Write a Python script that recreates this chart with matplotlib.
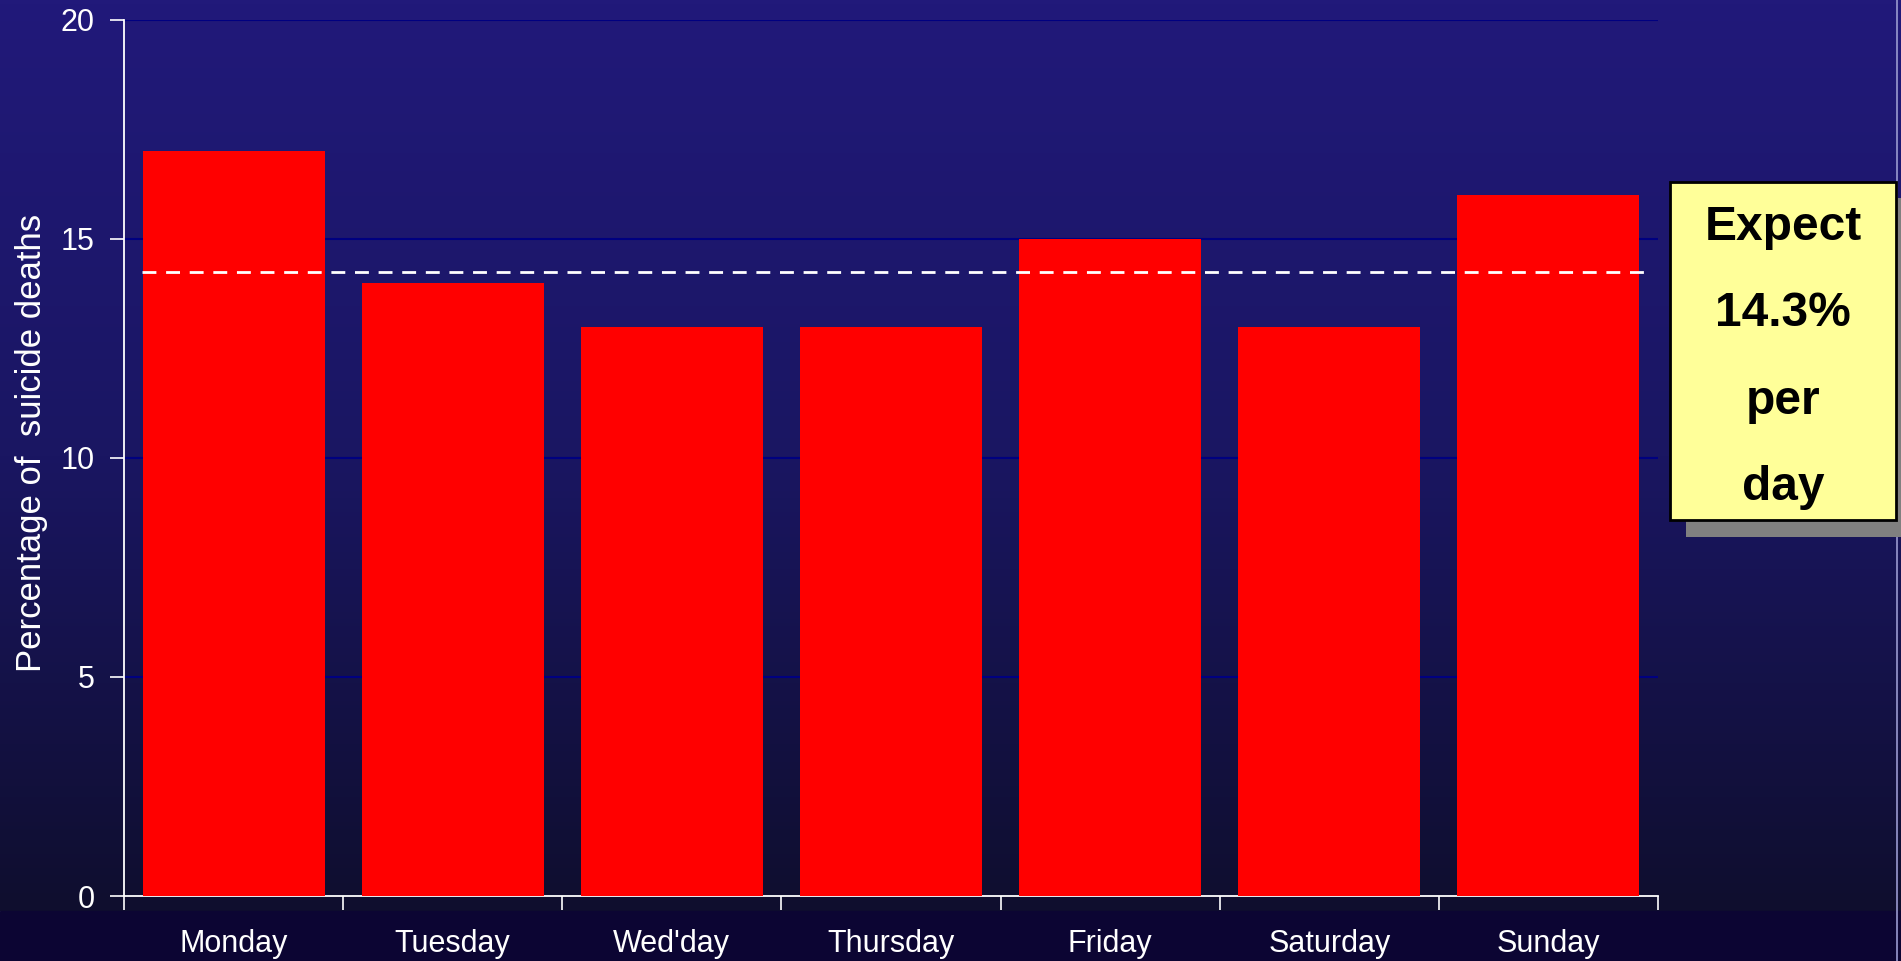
import matplotlib
matplotlib.use('Agg')
import matplotlib.pyplot as plt
import numpy as np
from matplotlib.patches import Rectangle
from matplotlib.colors import LinearSegmentedColormap

plt.rcParams['font.family'] = ['Liberation Sans', 'DejaVu Sans']

days = ["Monday", "Tuesday", "Wed'day", "Thursday", "Friday", "Saturday", "Sunday"]
pct = [17, 14, 13, 13, 15, 13, 16]
expected = 14.25
yticks = [0, 5, 10, 15, 20]
boxLines = ["Expect", "14.3%", "per", "day"]

W, H = 1901, 961
fig = plt.figure(figsize=(W/100, H/100), dpi=100)

# background gradient + darker strip at the bottom
bg = fig.add_axes([0, 0, 1, 1], zorder=-10)
bg.axis('off')
cmap = LinearSegmentedColormap.from_list('bg', ['#0f0e2e', '#1a1662', '#21197a'])
grad = np.linspace(0, 1, 256).reshape(-1, 1)
bg.imshow(grad, aspect='auto', cmap=cmap, origin='lower', extent=[0, 1, (H-911)/H, 1])
bg.add_patch(Rectangle((0, 0), 1, (H-911)/H, color='#0c0533', transform=bg.transAxes))
bg.axvline(1896.5/W, color='#9a9ad0', lw=1.2)
bg.set_xlim(0, 1)
bg.set_ylim(0, 1)

ax = fig.add_axes([124/W, (H-896)/H, (1658-124)/W, (896-20)/H])
ax.patch.set_alpha(0)
x = np.arange(len(days))
ax.bar(x, pct, width=0.83, color='#ff0000', zorder=3)
ax.set_xlim(-0.5, len(days)-0.5)
ax.set_ylim(0, 20)
ax.set_yticks(yticks)
for t in yticks[1:]:
    ax.axhline(t, color='#000080', lw=1.5, zorder=1)
ax.plot([-0.42, len(days)-0.56], [expected, expected], color='white', lw=2,
        dashes=(5, 3.5), zorder=4)

ax.set_xticks(np.arange(len(days)+1)-0.5)
ax.set_xticklabels([])
ax.set_xticks(x, minor=True)
ax.set_xticklabels(days, minor=True)
ax.tick_params(axis='x', which='minor', length=0, pad=24, labelsize=22, labelcolor='white')
ax.tick_params(axis='x', which='major', length=10, width=1.2, color='white', direction='out')
ax.tick_params(axis='y', length=10, width=1.2, color='white', labelsize=22, labelcolor='white', pad=11)
ax.set_ylabel("Percentage of  suicide deaths", color='white', fontsize=25, va='center')
ax.yaxis.set_label_coords(-0.0606, 0.517)
for s in ['top', 'right']:
    ax.spines[s].set_visible(False)
for s in ['left', 'bottom']:
    ax.spines[s].set_color('white')
    ax.spines[s].set_linewidth(1.3)

# yellow note box with shadow
def fx(px):
    return px / W
def fy(py):
    return 1 - py / H
fig.patches.append(Rectangle((fx(1686), fy(537)), fx(1912) - fx(1686), fy(198) - fy(537),
                             transform=fig.transFigure, facecolor='#808080', edgecolor='none', zorder=1))
fig.patches.append(Rectangle((fx(1670), fy(520)), fx(1896) - fx(1670), fy(182) - fy(520),
                             transform=fig.transFigure, facecolor='#ffff99', edgecolor='black', lw=2, zorder=2))
for i, line in enumerate(boxLines):
    fig.text(fx(1783), fy(227 + 87*i), line, ha='center', va='center', fontsize=34.5,
             fontweight='bold', color='black', zorder=3)

plt.savefig('out.png', dpi=100)
